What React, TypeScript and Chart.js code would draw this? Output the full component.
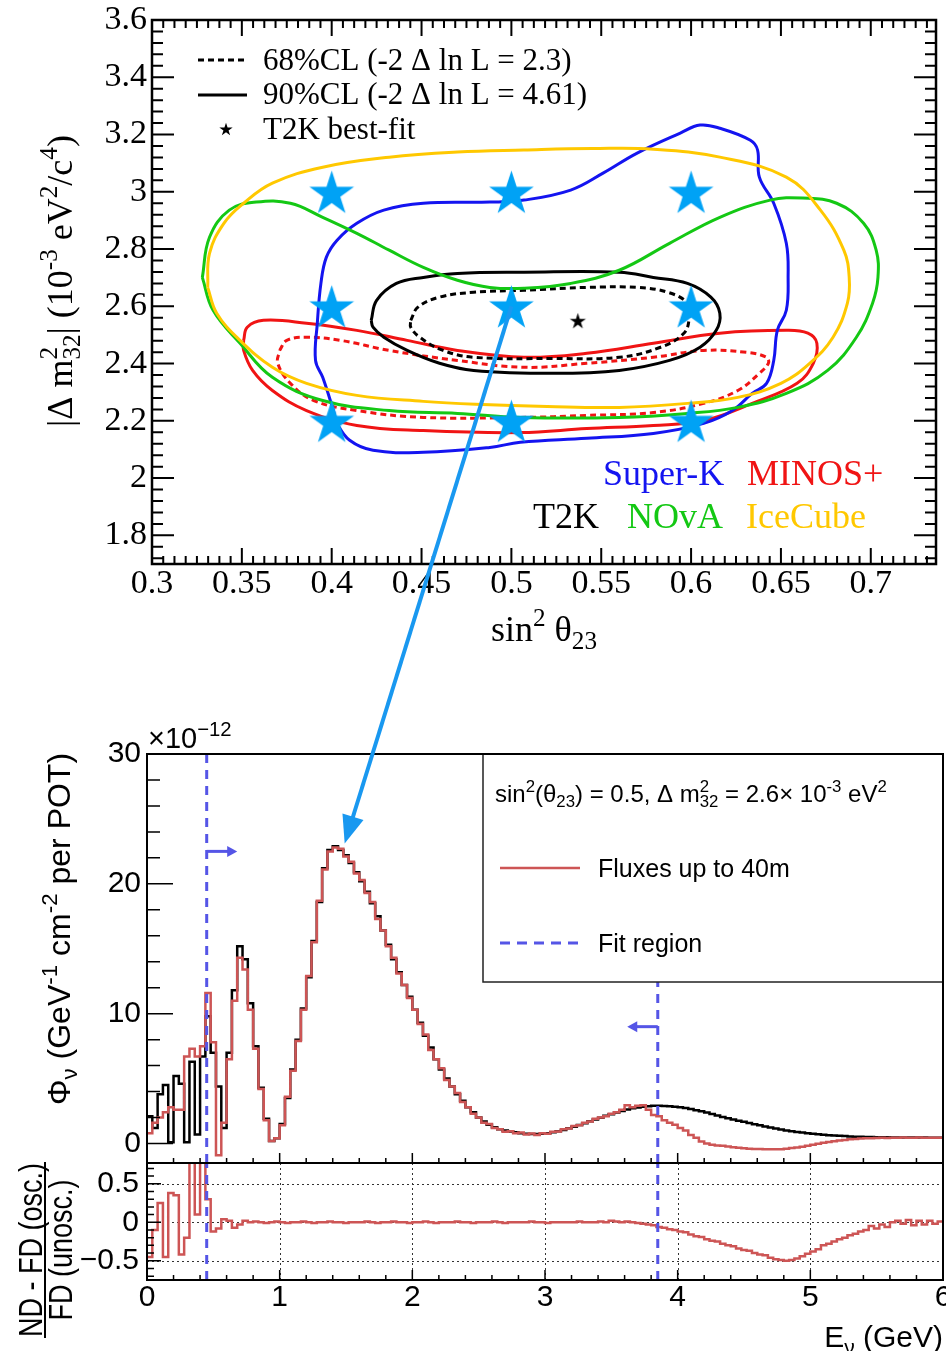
import { useEffect, useRef } from 'react';
import { Chart, registerables } from 'chart.js';

Chart.register(...registerables);

const SERIF = "'Liberation Serif', 'Times New Roman', serif";
const SANS = "'Liberation Sans', Arial, Helvetica, sans-serif";

// ---------------- Top panel: sin^2(theta23) vs |dm^2_32| ----------------
const SIN2_TICKS = [0.3, 0.35, 0.4, 0.45, 0.5, 0.55, 0.6, 0.65, 0.7];
const DM2_TICKS = [1.8, 2, 2.2, 2.4, 2.6, 2.8, 3, 3.2, 3.4, 3.6];
const SIN2_MIN = 0.3;
const SIN2_MAX = 0.7363;
const DM2_MIN = 1.7;
const DM2_MAX = 3.6;

const SUPERK_90 = [
  [0.401, 2.236], [0.395, 2.352], [0.391, 2.411], [0.392, 2.541], [0.394, 2.680], [0.397, 2.771],
  [0.403, 2.831], [0.414, 2.890], [0.429, 2.936], [0.451, 2.960], [0.488, 2.964], [0.507, 2.971],
  [0.533, 3.006], [0.551, 3.065], [0.570, 3.135], [0.594, 3.205], [0.605, 3.233], [0.616, 3.222],
  [0.633, 3.180], [0.637, 3.146], [0.638, 3.051], [0.646, 2.960], [0.653, 2.820], [0.654, 2.701],
  [0.653, 2.586], [0.648, 2.516], [0.646, 2.411], [0.642, 2.331], [0.634, 2.296], [0.623, 2.236],
  [0.607, 2.191], [0.579, 2.156], [0.542, 2.139], [0.505, 2.125], [0.488, 2.107], [0.451, 2.090],
  [0.423, 2.097], [0.410, 2.132], [0.403, 2.191],
];
const MINOS_90 = [
  [0.351, 2.481], [0.353, 2.527], [0.362, 2.551], [0.386, 2.541], [0.414, 2.516], [0.442, 2.481],
  [0.470, 2.446], [0.507, 2.422], [0.542, 2.436], [0.579, 2.471], [0.616, 2.506], [0.653, 2.516],
  [0.665, 2.506], [0.670, 2.471], [0.668, 2.401], [0.659, 2.331], [0.634, 2.261], [0.607, 2.201],
  [0.579, 2.184], [0.542, 2.173], [0.505, 2.159], [0.451, 2.166], [0.414, 2.184], [0.386, 2.236],
  [0.367, 2.306], [0.356, 2.376], [0.351, 2.446],
];
const MINOS_68 = [
  [0.371, 2.446], [0.375, 2.481], [0.386, 2.492], [0.405, 2.481], [0.432, 2.446], [0.470, 2.411],
  [0.507, 2.387], [0.542, 2.401], [0.579, 2.422], [0.607, 2.446], [0.631, 2.439], [0.642, 2.422],
  [0.643, 2.401], [0.638, 2.366], [0.626, 2.306], [0.607, 2.261], [0.579, 2.229], [0.542, 2.219],
  [0.505, 2.212], [0.451, 2.212], [0.414, 2.236], [0.390, 2.271], [0.377, 2.331], [0.370, 2.401],
];
const T2K_90 = [
  [0.422, 2.551], [0.425, 2.621], [0.436, 2.680], [0.451, 2.701], [0.470, 2.715], [0.507, 2.719],
  [0.560, 2.719], [0.579, 2.701], [0.598, 2.680], [0.611, 2.632], [0.616, 2.576], [0.614, 2.516],
  [0.605, 2.457], [0.588, 2.411], [0.560, 2.376], [0.523, 2.366], [0.479, 2.376], [0.460, 2.401],
  [0.442, 2.446], [0.429, 2.492], [0.423, 2.527],
];
const T2K_68 = [
  [0.444, 2.551], [0.448, 2.597], [0.460, 2.632], [0.479, 2.649], [0.507, 2.656], [0.542, 2.666],
  [0.570, 2.666], [0.587, 2.649], [0.598, 2.611], [0.599, 2.562], [0.596, 2.506], [0.583, 2.457],
  [0.560, 2.422], [0.523, 2.418], [0.479, 2.422], [0.462, 2.446], [0.449, 2.492], [0.444, 2.527],
];
const NOVA_90 = [
  [0.328, 2.701], [0.332, 2.841], [0.343, 2.936], [0.358, 2.964], [0.377, 2.960], [0.395, 2.911],
  [0.414, 2.855], [0.432, 2.796], [0.451, 2.736], [0.470, 2.691], [0.488, 2.666], [0.507, 2.663],
  [0.533, 2.680], [0.560, 2.726], [0.588, 2.820], [0.616, 2.911], [0.644, 2.971], [0.662, 2.978],
  [0.681, 2.960], [0.696, 2.890], [0.703, 2.796], [0.704, 2.701], [0.701, 2.611], [0.692, 2.492],
  [0.676, 2.376], [0.653, 2.296], [0.626, 2.247], [0.598, 2.226], [0.560, 2.212], [0.505, 2.212],
  [0.470, 2.226], [0.432, 2.236], [0.395, 2.271], [0.367, 2.352], [0.349, 2.471], [0.334, 2.586],
];
const ICECUBE_90 = [
  [0.331, 2.666], [0.332, 2.785], [0.340, 2.890], [0.351, 2.960], [0.367, 3.030], [0.395, 3.086],
  [0.432, 3.121], [0.470, 3.139], [0.507, 3.146], [0.545, 3.151], [0.579, 3.149], [0.616, 3.121],
  [0.653, 3.051], [0.672, 2.936], [0.685, 2.796], [0.688, 2.701], [0.687, 2.611], [0.679, 2.492],
  [0.666, 2.401], [0.650, 2.331], [0.626, 2.282], [0.598, 2.261], [0.560, 2.247], [0.520, 2.250],
  [0.480, 2.258], [0.451, 2.268], [0.414, 2.289], [0.386, 2.331], [0.367, 2.387], [0.349, 2.481],
  [0.336, 2.576],
];
const SCAN_SIN2 = [0.4, 0.5, 0.6];
const SCAN_DM2 = [3.0, 2.6, 2.2];
const T2K_BEST_FIT = { sin2: 0.537, dm2: 2.55 };
const ARROW_FROM = { sin2: 0.5, dm2: 2.6 };
const ARROW_TO = { e: 1.49, flux: 23.1 };

// ---------------- Flux panels ----------------
const E_BIN_WIDTH = 0.04;
const E_TICKS = [0, 1, 2, 3, 4, 5, 6];
const FLUX_TICKS = [0, 10, 20, 30];
const FLUX_MIN = -1.5;
const FLUX_MAX = 30;
const RATIO_TICKS = [-0.5, 0, 0.5];
const RATIO_MIN = -0.75;
const RATIO_MAX = 0.77;
const FIT_REGION = [0.45, 3.85];
const FIT_ARROWS = [
  { e: 0.45, flux: 22.5, to: 0.68 },
  { e: 3.85, flux: 9.0, to: 3.62 },
];

// far-detector oscillated flux (x1e-12), 0.04 GeV bins from 0 to 6 GeV
const FD_OSC_FLUX = [
  2.1, 1.2, 3.8, 4.5, 0.1, 5.2, 4.6, 0.1, 6.3, 0.7,
  6.7, 9.8, 7.0, 4.4, 1.2, 7.0, 11.8, 15.2, 14.2, 10.8,
  7.5, 4.3, 1.9, 0.2, 0.4, 1.5, 3.5, 5.7, 8.0, 10.4,
  12.8, 15.6, 18.6, 21.2, 22.6, 22.9, 22.6, 22.2, 21.6, 20.9,
  20.2, 19.4, 18.5, 17.5, 16.4, 15.3, 14.2, 13.2, 12.2, 11.3,
  10.3, 9.3, 8.3, 7.4, 6.5, 5.7, 5.0, 4.4, 3.8, 3.3,
  2.8, 2.4, 2.0, 1.7, 1.45, 1.25, 1.1, 1.0, 0.92, 0.86,
  0.8, 0.76, 0.74, 0.74, 0.76, 0.8, 0.87, 0.95, 1.05, 1.17,
  1.3, 1.43, 1.57, 1.71, 1.85, 1.99, 2.13, 2.26, 2.39, 2.51,
  2.62, 2.71, 2.78, 2.84, 2.88, 2.9, 2.9, 2.89, 2.87, 2.84,
  2.8, 2.74, 2.66, 2.57, 2.48, 2.38, 2.27, 2.16, 2.05, 1.95,
  1.85, 1.76, 1.67, 1.58, 1.49, 1.4, 1.32, 1.24, 1.16, 1.08,
  1.01, 0.95, 0.89, 0.84, 0.79, 0.75, 0.71, 0.67, 0.64, 0.61,
  0.59, 0.57, 0.55, 0.53, 0.52, 0.51, 0.5, 0.49, 0.48, 0.48,
  0.47, 0.47, 0.47, 0.46, 0.46, 0.46, 0.46, 0.45, 0.45, 0.45,
];
// linear combination of near-detector fluxes up to 40 m (x1e-12)
const ND_40M_FLUX = [
  0.8, 1.6, 2.0, 2.4, 2.8, 2.6, 2.6, 6.7, 7.3, 6.7,
  7.5, 11.6, 7.8, -0.9, 1.6, 6.5, 11.0, 14.3, 13.4, 10.3,
  7.3, 4.2, 1.8, 0.2, 0.4, 1.4, 3.6, 5.6, 7.9, 10.3,
  12.9, 15.5, 18.7, 21.1, 22.5, 22.8, 22.7, 22.1, 21.7, 20.8,
  20.3, 19.3, 18.6, 17.3, 16.4, 15.2, 14.3, 13.1, 12.2, 11.2,
  10.3, 9.2, 8.4, 7.2, 6.5, 5.8, 4.9, 4.4, 3.9, 3.2,
  2.8, 2.3, 2.0, 1.6, 1.5, 1.2, 1.1, 0.9, 0.95, 0.8,
  0.85, 0.7, 0.78, 0.65, 0.8, 0.75, 0.9, 0.92, 1.1, 1.15,
  1.35, 1.4, 1.6, 1.7, 1.9, 2.0, 2.1, 2.3, 2.4, 2.6,
  2.95, 2.8, 2.9, 2.95, 2.6, 2.2, 2.1, 1.8, 1.6, 1.45,
  1.2, 1.0, 0.65, 0.45, 0.15, 0.0, -0.1, -0.15, -0.18, -0.22,
  -0.28, -0.33, -0.37, -0.4, -0.42, -0.43, -0.44, -0.45, -0.45, -0.44,
  -0.4, -0.35, -0.3, -0.25, -0.18, -0.1, -0.02, 0.05, 0.12, 0.18,
  0.24, 0.28, 0.32, 0.35, 0.38, 0.4, 0.41, 0.43, 0.44, 0.43,
  0.45, 0.44, 0.46, 0.45, 0.44, 0.46, 0.45, 0.44, 0.45, 0.44,
];
// (ND - FD osc.) / FD unosc.
const RATIO = [
  -0.45, -0.1, 0.25, -0.45, 0.38, 0.35, -0.42, -0.2, 0.9, 0.1,
  0.9, 0.3, -0.12, -0.08, 0.04, 0.02, -0.07, -0.03, 0.02, 0.0,
  0.01, 0.0, -0.01, 0.0, 0.01, 0.0, -0.01, 0.0, 0.0, 0.01,
  0.0, -0.01, 0.0, 0.0, 0.01, 0.0, 0.0, -0.01, 0.0, 0.0,
  0.0, 0.01, 0.0, -0.01, 0.0, 0.0, 0.01, 0.0, 0.0, -0.01,
  0.0, 0.0, 0.01, 0.0, -0.01, 0.0, 0.0, 0.0, 0.01, 0.0,
  0.0, -0.01, 0.0, 0.0, 0.0, 0.01, 0.0, -0.01, 0.0, 0.0,
  0.0, 0.0, 0.01, 0.0, 0.0, -0.01, 0.0, 0.0, 0.0, 0.0,
  0.0, 0.01, 0.0, 0.0, 0.0, 0.01, 0.0, 0.02, 0.01, 0.0,
  0.01, 0.0, -0.01, -0.02, -0.03, -0.04, -0.06, -0.07, -0.09, -0.1,
  -0.12, -0.13, -0.16, -0.18, -0.19, -0.22, -0.24, -0.25, -0.28, -0.3,
  -0.31, -0.34, -0.36, -0.37, -0.4, -0.42, -0.43, -0.46, -0.48, -0.49,
  -0.5, -0.49, -0.47, -0.44, -0.41, -0.38, -0.35, -0.3, -0.28, -0.25,
  -0.22, -0.2, -0.17, -0.15, -0.12, -0.1, -0.05, -0.08, -0.03, -0.06,
  0.0, 0.02, -0.02, 0.03, -0.04, 0.02, -0.03, 0.02, -0.02, 0.01,
];

const COL_SK = '#1414f0';
const COL_MINOS = '#f01414';
const COL_NOVA = '#14c814';
const COL_ICE = '#ffc800';
const COL_STAR = 'rgb(0,162,245)';
const COL_ARROW = 'rgb(25,152,240)';
const COL_FIT = 'rgb(85,85,230)';
const COL_ND = 'rgb(205,85,85)';

// ---------------- helpers ----------------
type Seg = { t?: string; pos?: 'sup' | 'sub'; stack?: [string, string] };
const SCRIPT = 0.7;

function measureSegs(ctx: CanvasRenderingContext2D, segs: Seg[], size: number, family: string) {
  let w = 0;
  for (const s of segs) {
    if (s.stack) {
      ctx.font = `${size * SCRIPT}px ${family}`;
      w += Math.max(ctx.measureText(s.stack[0]).width, ctx.measureText(s.stack[1]).width);
    } else {
      ctx.font = `${s.pos ? size * SCRIPT : size}px ${family}`;
      w += ctx.measureText(s.t || '').width;
    }
  }
  return w;
}

function drawSegs(ctx: CanvasRenderingContext2D, segs: Seg[], x: number, y: number, size: number, family: string, align: string = 'left') {
  const total = measureSegs(ctx, segs, size, family);
  let cx = align === 'center' ? x - total / 2 : align === 'right' ? x - total : x;
  ctx.textAlign = 'left';
  ctx.textBaseline = 'alphabetic';
  for (const s of segs) {
    if (s.stack) {
      ctx.font = `${size * SCRIPT}px ${family}`;
      ctx.fillText(s.stack[0], cx, y - size * 0.42);
      ctx.fillText(s.stack[1], cx, y + size * 0.22);
      cx += Math.max(ctx.measureText(s.stack[0]).width, ctx.measureText(s.stack[1]).width);
    } else {
      const sz = s.pos ? size * SCRIPT : size;
      ctx.font = `${sz}px ${family}`;
      const dy = s.pos === 'sup' ? -size * 0.42 : s.pos === 'sub' ? size * 0.22 : 0;
      ctx.fillText(s.t || '', cx, y + dy);
      cx += ctx.measureText(s.t || '').width;
    }
  }
}

function axisTicks(ctx: CanvasRenderingContext2D, chart: any, axis: string, minorStep: number, majorStep: number,
  majorLen: number, minorLen: number, sides: string[]) {
  const sc = chart.scales[axis];
  const a = chart.chartArea;
  const start = Math.ceil((sc.min - 1e-9) / minorStep);
  ctx.beginPath();
  for (let i = start; i * minorStep <= sc.max + 1e-9; i++) {
    const v = i * minorStep;
    const r = v / majorStep;
    const major = Math.abs(r - Math.round(r)) < 1e-4;
    const len = major ? majorLen : minorLen;
    const p = sc.getPixelForValue(v);
    for (const side of sides) {
      if (side === 'bottom') { ctx.moveTo(p, a.bottom); ctx.lineTo(p, a.bottom - len); }
      if (side === 'top') { ctx.moveTo(p, a.top); ctx.lineTo(p, a.top + len); }
      if (side === 'left') { ctx.moveTo(a.left, p); ctx.lineTo(a.left + len, p); }
      if (side === 'right') { ctx.moveTo(a.right, p); ctx.lineTo(a.right - len, p); }
    }
  }
  ctx.stroke();
}

function makeStar(outer: number, color: string) {
  const c = document.createElement('canvas');
  const size = Math.ceil(outer * 2 + 2);
  c.width = size;
  c.height = size;
  const g = c.getContext('2d') as CanvasRenderingContext2D;
  const cx = size / 2;
  const cy = size / 2 + outer * 0.095;
  g.beginPath();
  for (let i = 0; i < 10; i++) {
    const r = i % 2 === 0 ? outer : outer * 0.382;
    const ang = -Math.PI / 2 + (i * Math.PI) / 5;
    const px = cx + r * Math.cos(ang);
    const py = cy + r * Math.sin(ang);
    if (i === 0) g.moveTo(px, py); else g.lineTo(px, py);
  }
  g.closePath();
  g.fillStyle = color;
  g.fill();
  return c;
}

function arrowHead(ctx: CanvasRenderingContext2D, x0: number, y0: number, x1: number, y1: number, lw: number, headLen: number, headHalf: number, color: string) {
  const dx = x1 - x0;
  const dy = y1 - y0;
  const L = Math.hypot(dx, dy);
  const ux = dx / L;
  const uy = dy / L;
  const bx = x1 - ux * headLen;
  const by = y1 - uy * headLen;
  ctx.save();
  ctx.strokeStyle = color;
  ctx.fillStyle = color;
  ctx.lineWidth = lw;
  ctx.setLineDash([]);
  ctx.beginPath();
  ctx.moveTo(x0, y0);
  ctx.lineTo(bx + ux * 2, by + uy * 2);
  ctx.stroke();
  ctx.beginPath();
  ctx.moveTo(x1, y1);
  ctx.lineTo(bx - uy * headHalf, by + ux * headHalf);
  ctx.lineTo(bx + uy * headHalf, by - ux * headHalf);
  ctx.closePath();
  ctx.fill();
  ctx.restore();
}

const fixedAxis = (w: number | null, h: number | null) => (s: any) => {
  if (w !== null) s.width = w;
  if (h !== null) s.height = h;
  s.paddingLeft = 0;
  s.paddingRight = 0;
  s.paddingTop = 0;
  s.paddingBottom = 0;
};

const histPoints = (vals: number[]) => {
  const pts = vals.map((v, i) => ({ x: +(i * E_BIN_WIDTH).toFixed(3), y: v }));
  pts.push({ x: +(vals.length * E_BIN_WIDTH).toFixed(3), y: vals[vals.length - 1] });
  return pts;
};

export default function App() {
  const topRef = useRef<HTMLCanvasElement>(null);
  const fluxRef = useRef<HTMLCanvasElement>(null);
  const ratioRef = useRef<HTMLCanvasElement>(null);
  const overRef = useRef<HTMLCanvasElement>(null);

  useEffect(() => {
    const blueStar = makeStar(23.5, COL_STAR);
    const bestStar = makeStar(8.5, '#000');
    const legendStar = makeStar(7, '#000');

    const contour = (pts: number[][], color: string, dashed: boolean) => ({
      data: [...pts, pts[0]].map(([x, y]) => ({ x, y })),
      showLine: true,
      borderColor: color,
      borderWidth: 3,
      borderDash: dashed ? [6, 4] : [],
      pointRadius: 0,
      tension: 0.4,
      fill: false,
      order: 2,
    });

    const topDecor = {
      id: 'topDecor',
      afterDraw(chart: any) {
        const ctx = chart.ctx as CanvasRenderingContext2D;
        const a = chart.chartArea;
        ctx.save();
        ctx.strokeStyle = '#000';
        ctx.lineWidth = 2;
        axisTicks(ctx, chart, 'x', 0.00625, 0.05, 16, 8, ['bottom', 'top']);
        axisTicks(ctx, chart, 'y', 0.04, 0.2, 22, 11, ['left', 'right']);
        ctx.lineWidth = 2.5;
        ctx.strokeRect(a.left, a.top, a.right - a.left, a.bottom - a.top);

        // CL legend
        ctx.lineWidth = 3;
        ctx.setLineDash([6, 4]);
        ctx.beginPath();
        ctx.moveTo(a.left + 46, a.top + 40);
        ctx.lineTo(a.left + 95, a.top + 40);
        ctx.stroke();
        ctx.setLineDash([]);
        ctx.beginPath();
        ctx.moveTo(a.left + 46, a.top + 75);
        ctx.lineTo(a.left + 95, a.top + 75);
        ctx.stroke();
        ctx.drawImage(legendStar, a.left + 74 - legendStar.width / 2, a.top + 109 - legendStar.height / 2);
        ctx.fillStyle = '#000';
        drawSegs(ctx, [{ t: '68%CL (-2 Δ ln L = 2.3)' }], a.left + 111, a.top + 50, 31, SERIF);
        drawSegs(ctx, [{ t: '90%CL (-2 Δ ln L = 4.61)' }], a.left + 111, a.top + 84, 31, SERIF);
        drawSegs(ctx, [{ t: 'T2K best-fit' }], a.left + 111, a.top + 119, 31, SERIF);

        // experiment legend
        const exps: [string, string, number, number][] = [
          ['Super-K', COL_SK, 451, 465],
          ['MINOS+', COL_MINOS, 595, 465],
          ['T2K', '#000', 381, 508],
          ['NOvA', COL_NOVA, 475, 508],
          ['IceCube', COL_ICE, 594, 508],
        ];
        for (const [name, col, dx, dy] of exps) {
          ctx.fillStyle = col;
          drawSegs(ctx, [{ t: name }], a.left + dx, a.top + dy, 36, SERIF);
        }

        // axis titles
        ctx.fillStyle = '#000';
        drawSegs(ctx, [{ t: 'sin' }, { t: '2', pos: 'sup' }, { t: ' θ' }, { t: '23', pos: 'sub' }],
          (a.left + a.right) / 2, a.bottom + 77, 36, SERIF, 'center');
        ctx.save();
        ctx.translate(72, a.top + 261);
        ctx.rotate(-Math.PI / 2);
        drawSegs(ctx, [
          { t: '|Δ m' }, { stack: ['2', '32'] }, { t: '| (10' }, { t: '-3', pos: 'sup' },
          { t: ' eV' }, { t: '2', pos: 'sup' }, { t: '/c' }, { t: '4', pos: 'sup' }, { t: ')' },
        ], 0, 0, 36, SERIF, 'center');
        ctx.restore();
        ctx.restore();
      },
    };

    const topChart = new Chart(topRef.current as HTMLCanvasElement, {
      type: 'scatter',
      data: {
        datasets: [
          {
            data: SCAN_SIN2.flatMap((x) => SCAN_DM2.map((y) => ({ x, y }))),
            pointStyle: blueStar as any,
            pointRadius: 23,
            showLine: false,
            order: 0,
          },
          {
            data: [{ x: T2K_BEST_FIT.sin2, y: T2K_BEST_FIT.dm2 }],
            pointStyle: bestStar as any,
            pointRadius: 9,
            showLine: false,
            order: 0,
          },
          contour(ICECUBE_90, COL_ICE, false),
          contour(NOVA_90, COL_NOVA, false),
          contour(SUPERK_90, COL_SK, false),
          contour(T2K_90, '#000', false),
          contour(T2K_68, '#000', true),
          contour(MINOS_90, COL_MINOS, false),
          contour(MINOS_68, COL_MINOS, true),
        ] as any,
      },
      options: {
        animation: false,
        responsive: false,
        events: [],
        layout: { autoPadding: false, padding: { top: 20, right: 10, left: 0, bottom: 0 } },
        plugins: { legend: { display: false }, tooltip: { enabled: false } },
        scales: {
          x: {
            type: 'linear',
            min: SIN2_MIN,
            max: SIN2_MAX,
            afterBuildTicks: (s: any) => { s.ticks = SIN2_TICKS.map((v) => ({ value: v })); },
            afterFit: fixedAxis(null, 136),
            grid: { display: false, drawTicks: false },
            border: { display: false },
            ticks: {
              font: { family: SERIF, size: 34 }, color: '#000', padding: 0, autoSkip: false, maxRotation: 0,
              callback: (v: any) => String(parseFloat(Number(v).toFixed(3))),
            },
          },
          y: {
            type: 'linear',
            min: DM2_MIN,
            max: DM2_MAX,
            afterBuildTicks: (s: any) => { s.ticks = DM2_TICKS.map((v) => ({ value: v })); },
            afterFit: fixedAxis(152, null),
            grid: { display: false, drawTicks: false },
            border: { display: false },
            ticks: {
              font: { family: SERIF, size: 34 }, color: '#000', padding: 5, autoSkip: false,
              callback: (v: any) => String(parseFloat(Number(v).toFixed(3))),
            },
          },
        },
      } as any,
      plugins: [topDecor],
    });

    // ---------------- flux chart ----------------
    const fluxDecor = {
      id: 'fluxDecor',
      afterDatasetsDraw(chart: any) {
        const ctx = chart.ctx as CanvasRenderingContext2D;
        const a = chart.chartArea;
        const xs = chart.scales.x;
        const ys = chart.scales.y;
        ctx.save();
        for (const ar of FIT_ARROWS) {
          const y = ys.getPixelForValue(ar.flux);
          arrowHead(ctx, xs.getPixelForValue(ar.e), y, xs.getPixelForValue(ar.to), y, 3, 10, 5.5, COL_FIT);
        }
        // legend box
        const bx = a.right - 460;
        const by = a.top;
        ctx.fillStyle = '#fff';
        ctx.fillRect(bx, by, 460, 228);
        ctx.strokeStyle = '#222';
        ctx.lineWidth = 1.5;
        ctx.strokeRect(bx, by, 460, 228);
        ctx.fillStyle = '#000';
        drawSegs(ctx, [
          { t: 'sin' }, { t: '2', pos: 'sup' }, { t: '(θ' }, { t: '23', pos: 'sub' }, { t: ') = 0.5, Δ m' },
          { stack: ['2', '32'] }, { t: ' = 2.6× 10' }, { t: '-3', pos: 'sup' }, { t: ' eV' }, { t: '2', pos: 'sup' },
        ], bx + 12, by + 48, 24, SANS);
        ctx.strokeStyle = COL_ND;
        ctx.lineWidth = 2.5;
        ctx.beginPath();
        ctx.moveTo(bx + 17, by + 114);
        ctx.lineTo(bx + 97, by + 114);
        ctx.stroke();
        drawSegs(ctx, [{ t: 'Fluxes up to 40m' }], bx + 115, by + 123, 25, SANS);
        ctx.strokeStyle = COL_FIT;
        ctx.lineWidth = 3;
        ctx.setLineDash([10, 7]);
        ctx.beginPath();
        ctx.moveTo(bx + 17, by + 189);
        ctx.lineTo(bx + 96, by + 189);
        ctx.stroke();
        ctx.setLineDash([]);
        drawSegs(ctx, [{ t: 'Fit region' }], bx + 115, by + 198, 25, SANS);
        ctx.restore();
      },
      afterDraw(chart: any) {
        const ctx = chart.ctx as CanvasRenderingContext2D;
        const a = chart.chartArea;
        ctx.save();
        ctx.strokeStyle = '#000';
        ctx.lineWidth = 1.5;
        axisTicks(ctx, chart, 'y', 2, 10, 26, 13, ['left']);
        axisTicks(ctx, chart, 'x', 0.2, 1, 10, 5, ['bottom']);
        ctx.lineWidth = 2;
        ctx.strokeRect(a.left, a.top, a.right - a.left, a.bottom - a.top);
        ctx.fillStyle = '#000';
        drawSegs(ctx, [{ t: '×10' }, { t: '−12', pos: 'sup' }], a.left + 1, a.top - 6, 29, SANS);
        ctx.save();
        ctx.translate(70, a.top + 175);
        ctx.rotate(-Math.PI / 2);
        drawSegs(ctx, [
          { t: 'Φ' }, { t: 'ν', pos: 'sub' }, { t: ' (GeV' }, { t: '-1', pos: 'sup' }, { t: ' cm' },
          { t: '-2', pos: 'sup' }, { t: ' per POT)' },
        ], 0, 0, 32, SANS, 'center');
        ctx.restore();
        ctx.restore();
      },
    };

    const fitLine = (e: number, lo: number, hi: number) => ({
      data: [{ x: e, y: lo }, { x: e, y: hi }],
      borderColor: COL_FIT,
      borderWidth: 3,
      borderDash: [9, 7],
      pointRadius: 0,
      tension: 0,
      order: 0,
    });

    const fluxChart = new Chart(fluxRef.current as HTMLCanvasElement, {
      type: 'line',
      data: {
        datasets: [
          ...FIT_REGION.map((e) => fitLine(e, FLUX_MIN, FLUX_MAX)),
          { data: histPoints(ND_40M_FLUX), borderColor: COL_ND, borderWidth: 2.5, stepped: true, pointRadius: 0, order: 1 },
          { data: histPoints(FD_OSC_FLUX), borderColor: '#000', borderWidth: 2.5, stepped: true, pointRadius: 0, order: 2 },
        ] as any,
      },
      options: {
        animation: false,
        responsive: false,
        events: [],
        layout: { autoPadding: false, padding: { top: 54, right: 3, left: 0, bottom: 7 } },
        plugins: { legend: { display: false }, tooltip: { enabled: false } },
        scales: {
          x: { type: 'linear', min: 0, max: 6, display: false },
          y: {
            type: 'linear',
            min: FLUX_MIN,
            max: FLUX_MAX,
            afterBuildTicks: (s: any) => { s.ticks = FLUX_TICKS.map((v) => ({ value: v })); },
            afterFit: fixedAxis(147, null),
            grid: { display: false, drawTicks: false },
            border: { display: false },
            ticks: { font: { family: SANS, size: 30 }, color: '#000', padding: 6, callback: (v: any) => String(v) },
          },
        },
      } as any,
      plugins: [fluxDecor],
    });

    // ---------------- ratio chart ----------------
    const ratioDecor = {
      id: 'ratioDecor',
      beforeDatasetsDraw(chart: any) {
        const ctx = chart.ctx as CanvasRenderingContext2D;
        const a = chart.chartArea;
        ctx.save();
        ctx.strokeStyle = '#333';
        ctx.lineWidth = 1;
        ctx.setLineDash([2, 3]);
        ctx.beginPath();
        for (const v of RATIO_TICKS) {
          const y = Math.round(chart.scales.y.getPixelForValue(v)) + 0.5;
          ctx.moveTo(a.left, y);
          ctx.lineTo(a.right, y);
        }
        for (const e of E_TICKS.slice(1, -1)) {
          const x = Math.round(chart.scales.x.getPixelForValue(e)) + 0.5;
          ctx.moveTo(x, a.top);
          ctx.lineTo(x, a.bottom);
        }
        ctx.stroke();
        ctx.restore();
      },
      afterDraw(chart: any) {
        const ctx = chart.ctx as CanvasRenderingContext2D;
        const a = chart.chartArea;
        ctx.save();
        ctx.strokeStyle = '#000';
        ctx.lineWidth = 1.5;
        axisTicks(ctx, chart, 'y', 0.1, 0.5, 14, 7, ['left']);
        axisTicks(ctx, chart, 'x', 0.2, 1, 10, 5, ['bottom']);
        ctx.lineWidth = 2;
        ctx.strokeRect(a.left, a.top, a.right - a.left, a.bottom - a.top);
        ctx.fillStyle = '#000';
        drawSegs(ctx, [{ t: 'E' }, { t: 'ν', pos: 'sub' }, { t: ' (GeV)' }], a.right, a.bottom + 67, 30, SANS, 'right');
        // fraction title
        const cy = a.top + 87;
        ctx.save();
        ctx.translate(42, cy);
        ctx.rotate(-Math.PI / 2);
        ctx.scale(1, 1.25);
        drawSegs(ctx, [{ t: 'ND - FD (osc.)' }], 0, 0, 27, SANS, 'center');
        ctx.restore();
        ctx.save();
        ctx.translate(72, cy);
        ctx.rotate(-Math.PI / 2);
        ctx.scale(1, 1.25);
        drawSegs(ctx, [{ t: 'FD (unosc.)' }], 0, 0, 27, SANS, 'center');
        ctx.restore();
        ctx.lineWidth = 2;
        ctx.beginPath();
        ctx.moveTo(45, cy - 88);
        ctx.lineTo(45, cy + 88);
        ctx.stroke();
        ctx.restore();
      },
    };

    const ratioChart = new Chart(ratioRef.current as HTMLCanvasElement, {
      type: 'line',
      data: {
        datasets: [
          ...FIT_REGION.map((e) => fitLine(e, RATIO_MIN, RATIO_MAX)),
          { data: histPoints(RATIO), borderColor: COL_ND, borderWidth: 2.5, stepped: true, pointRadius: 0, order: 1 },
        ] as any,
      },
      options: {
        animation: false,
        responsive: false,
        events: [],
        layout: { autoPadding: false, padding: { top: 13, right: 3, left: 0, bottom: 0 } },
        plugins: { legend: { display: false }, tooltip: { enabled: false } },
        scales: {
          x: {
            type: 'linear',
            min: 0,
            max: 6,
            afterBuildTicks: (s: any) => { s.ticks = E_TICKS.map((v) => ({ value: v })); },
            afterFit: fixedAxis(null, 71),
            grid: { display: false, drawTicks: false },
            border: { display: false },
            ticks: { font: { family: SANS, size: 30 }, color: '#000', padding: 0, autoSkip: false, maxRotation: 0, callback: (v: any) => String(v) },
          },
          y: {
            type: 'linear',
            min: RATIO_MIN,
            max: RATIO_MAX,
            afterBuildTicks: (s: any) => { s.ticks = RATIO_TICKS.map((v) => ({ value: v })); },
            afterFit: fixedAxis(147, null),
            grid: { display: false, drawTicks: false },
            border: { display: false },
            ticks: {
              font: { family: SANS, size: 30 }, color: '#000', padding: 8, autoSkip: false,
              callback: (v: any) => (Number(v) < 0 ? '−' + String(-Number(v)) : String(v)),
            },
          },
        },
      } as any,
      plugins: [ratioDecor],
    });

    // ---------------- connecting arrow ----------------
    const ov = (overRef.current as HTMLCanvasElement).getContext('2d') as CanvasRenderingContext2D;
    ov.clearRect(0, 0, 946, 1351);
    const x1 = topChart.scales.x.getPixelForValue(ARROW_FROM.sin2);
    const y1 = topChart.scales.y.getPixelForValue(ARROW_FROM.dm2);
    const x2 = fluxChart.scales.x.getPixelForValue(ARROW_TO.e);
    const y2 = fluxChart.scales.y.getPixelForValue(ARROW_TO.flux) + 700;
    arrowHead(ov, x1, y1, x2, y2, 4, 28, 11, COL_ARROW);

    return () => {
      topChart.destroy();
      fluxChart.destroy();
      ratioChart.destroy();
    };
  }, []);

  return (
    <div style={{ position: 'absolute', left: 0, top: 0, width: 946, height: 1351, background: '#fff', overflow: 'hidden' }}>
      <canvas ref={topRef} width={946} height={700} style={{ position: 'absolute', left: 0, top: 0 }} />
      <canvas ref={fluxRef} width={946} height={470} style={{ position: 'absolute', left: 0, top: 700 }} />
      <canvas ref={ratioRef} width={946} height={201} style={{ position: 'absolute', left: 0, top: 1150 }} />
      <canvas ref={overRef} width={946} height={1351} style={{ position: 'absolute', left: 0, top: 0, pointerEvents: 'none' }} />
    </div>
  );
}
